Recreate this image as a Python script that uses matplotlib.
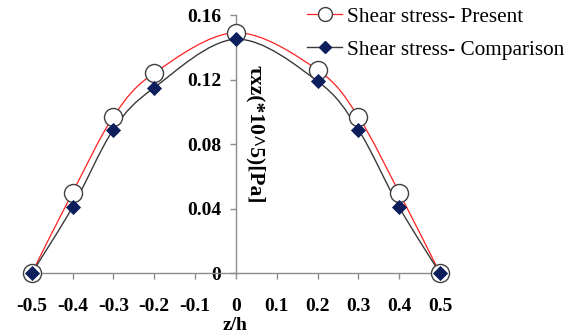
"""Shear stress through the thickness: present model vs comparison."""

import matplotlib
matplotlib.use("Agg")
import matplotlib.pyplot as plt
import numpy as np
from matplotlib.path import Path
from matplotlib.patches import PathPatch
from matplotlib.lines import Line2D

z_h = [-0.5, -0.4, -0.3, -0.2, 0.0, 0.2, 0.3, 0.4, 0.5]
tau_present = [0.0, 0.050, 0.097, 0.124, 0.149, 0.126, 0.097, 0.050, 0.0]
tau_comparison = [0.0, 0.041, 0.089, 0.115, 0.145, 0.119, 0.089, 0.041, 0.0]
x_ticks = [-0.5, -0.4, -0.3, -0.2, -0.1, 0.0, 0.1, 0.2, 0.3, 0.4, 0.5]
x_ticklabels = ["-0.5", "-0.4", "-0.3", "-0.2", "-0.1", "0", "0.1", "0.2", "0.3", "0.4", "0.5"]
y_ticks = [0.0, 0.04, 0.08, 0.12, 0.16]
y_ticklabels = ["0", "0.04", "0.08", "0.12", "0.16"]

SERIF = ["Liberation Serif", "DejaVu Serif"]
NAVY = "#0C1F5C"


def smooth_path(xs, ys):
    # Excel-like smoothed line: Catmull-Rom segments as cubic Beziers
    p = np.column_stack([xs, ys])
    verts = [p[0]]
    codes = [Path.MOVETO]
    n = len(p)
    for i in range(n - 1):
        p0 = p[i - 1] if i > 0 else p[i]
        p3 = p[i + 2] if i + 2 < n else p[i + 1]
        c1 = p[i] + (p[i + 1] - p0) / 6
        c2 = p[i + 1] - (p3 - p[i]) / 6
        verts += [c1, c2, p[i + 1]]
        codes += [Path.CURVE4] * 3
    return Path(verts, codes)


fig = plt.figure(figsize=(5.8, 3.32), dpi=100)
ax = fig.add_axes([31.7 / 580, 1 - 273.3 / 332, 408.3 / 580, 258.3 / 332])

ax.add_patch(PathPatch(smooth_path(z_h, tau_present), fill=False, ec="#FF2020", lw=0.9, zorder=2))
ax.add_patch(PathPatch(smooth_path(z_h, tau_comparison), fill=False, ec="#3A3A3A", lw=1.0, zorder=2))
ax.plot(z_h, tau_present, ls="none", marker="o", ms=13, mfc="white", mec="#404040", mew=1.0,
        zorder=3, clip_on=False)
ax.plot(z_h, tau_comparison, ls="none", marker="D", ms=7.6, mfc=NAVY, mec=NAVY, mew=0.6,
        zorder=4, clip_on=False)

ax.set_xlim(-0.5, 0.5)
ax.set_ylim(0, 0.16)
ax.spines[["top", "right"]].set_visible(False)
ax.spines["left"].set_position(("data", 0))
for side in ("left", "bottom"):
    ax.spines[side].set_color("#8C8C8C")
    ax.spines[side].set_linewidth(1.0)
ax.patch.set_alpha(0)

ax.set_xticks(x_ticks, x_ticklabels)
ax.set_yticks(y_ticks, y_ticklabels)
for lab in ax.get_xticklabels() + ax.get_yticklabels():
    lab.set_family(SERIF)
    lab.set_fontweight("bold")
    lab.set_fontsize(14)
ax.tick_params(axis="x", direction="out", length=4.5, width=1.0, color="#8C8C8C", pad=13.5)
ax.tick_params(axis="y", direction="out", length=4.5, width=1.0, color="#8C8C8C", pad=6)

fig.text(235 / 580, 1 - 325 / 332, "z/h", family=SERIF, fontsize=14, fontweight="bold",
         ha="center", va="center")
fig.text(255 / 580, 1 - 134 / 332, "\u03c4xz(*10^5)[Pa]", family=SERIF, fontsize=15.5,
         fontweight="bold", rotation=-90, ha="center", va="center")

handles = [
    Line2D([], [], color="#FF2020", lw=0.9, marker="o", ms=10, mfc="white", mec="#404040", mew=1.0),
    Line2D([], [], color="#3A3A3A", lw=1.0, marker="D", ms=6.5, mfc=NAVY, mec=NAVY),
]
fig.legend(handles, ["Shear stress- Present", "Shear stress- Comparison"],
           loc="upper left", bbox_to_anchor=(307 / 580, 1 - 7 / 332), frameon=False,
           prop={"family": SERIF, "size": 15.3}, handlelength=1.65, handletextpad=0.25,
           labelspacing=0.6, borderpad=0, borderaxespad=0)

fig.savefig("out.png", dpi=100, facecolor="white")
